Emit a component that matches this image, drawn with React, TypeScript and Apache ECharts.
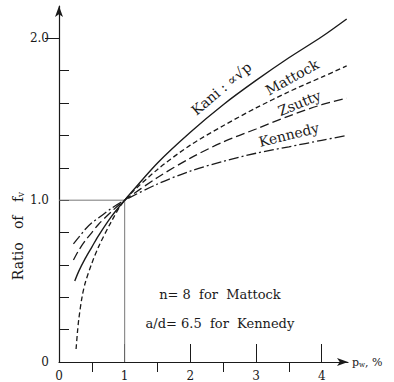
import React, { useEffect, useRef } from "react";
import * as echarts from "echarts";

const kaniP = [0.24, 0.3, 0.4, 0.5, 0.6, 0.8, 1.0, 1.5, 2.0, 2.5, 3.0, 3.5, 4.0, 4.38];
const kaniR = [0.5, 0.56, 0.64, 0.71, 0.78, 0.9, 1.0, 1.23, 1.42, 1.59, 1.74, 1.88, 2.01, 2.12];

const mattockP = [0.26, 0.28, 0.3, 0.35, 0.4, 0.5, 0.6, 0.8, 1.0, 1.5, 2.0, 2.5, 3.0, 3.5, 4.0, 4.38];
const mattockR = [0.08, 0.18, 0.26, 0.4, 0.49, 0.61, 0.71, 0.87, 1.0, 1.19, 1.34, 1.46, 1.57, 1.67, 1.76, 1.83];

const zsuttyP = [0.22, 0.3, 0.4, 0.5, 0.6, 0.8, 1.0, 1.5, 2.0, 2.5, 3.0, 3.5, 4.0, 4.38];
const zsuttyR = [0.63, 0.69, 0.75, 0.8, 0.85, 0.93, 1.0, 1.14, 1.26, 1.36, 1.44, 1.52, 1.59, 1.63];

const kennedyP = [0.22, 0.3, 0.4, 0.5, 0.6, 0.8, 1.0, 1.5, 2.0, 2.5, 3.0, 3.5, 4.0, 4.38];
const kennedyR = [0.73, 0.77, 0.82, 0.86, 0.89, 0.95, 1.0, 1.1, 1.18, 1.24, 1.29, 1.33, 1.37, 1.4];

const refP = [0, 1, 1];
const refR = [1, 1, 0];

const xMajorTicks = [1, 2, 3, 4];
const xMinorTicks = [0.5, 1.5, 2.5, 3.5];
const xLabels = [0, 1, 2, 3, 4];
const yTicks = [0.2, 0.4, 0.6, 0.8, 1.0, 1.2, 1.4, 1.6, 1.8];
const yLongTicks = [2.0];
const yLabels = [0, 1, 2];

const curveLabels = [
  { text: "Kani : ∝√p", p: 2.47, r: 1.69, deg: 40 },
  { text: "Mattock", p: 3.55, r: 1.76, deg: 29 },
  { text: "Zsutty", p: 3.66, r: 1.6, deg: 22 },
  { text: "Kennedy", p: 3.5, r: 1.405, deg: 14 },
];

const notes = ["n= 8  for  Mattock", "a/d= 6.5  for  Kennedy"];

const FONT = "DejaVu Serif";
const INK = "#1a1a1a";

const zip = (a: number[], b: number[]) => a.map((v, i) => [v, b[i]]);

export default function App() {
  const ref = useRef<HTMLDivElement>(null);
  useEffect(() => {
    if (!ref.current) return;
    const chart = echarts.init(ref.current, null, { renderer: "svg" });
    const grid = { left: 59, right: 46, top: 6, bottom: 18 };
    const baseX = {
      type: "value" as const,
      min: 0,
      max: 4.4,
      splitLine: { show: false },
    };
    const baseY = {
      type: "value" as const,
      min: 0,
      max: 2.2,
      splitLine: { show: false },
    };
    const line = (name: string, data: number[][], type: any, width = 1.3) => ({
      name,
      type: "line",
      data,
      showSymbol: false,
      symbol: "none",
      smooth: 0.3,
      lineStyle: { color: INK, width, type },
      silent: true,
    });
    chart.setOption({
      animation: false,
      grid,
      xAxis: [
        {
          ...baseX,
          axisLine: {
            show: true,
            lineStyle: { color: INK, width: 1.2 },
            symbol: ["none", "arrow"],
            symbolSize: [6, 11],
          },
          axisTick: {
            show: true,
            inside: true,
            length: 18,
            customValues: xMajorTicks,
            lineStyle: { color: INK, width: 1 },
          },
          axisLabel: {
            show: true,
            customValues: xLabels,
            margin: 8,
            color: INK,
            fontFamily: FONT,
            fontSize: 12,
            formatter: (v: number) => String(v),
          },
          name: "p{s|w}, %",
          nameLocation: "end",
          nameGap: 4,
          nameTextStyle: {
            color: INK,
            fontFamily: FONT,
            fontSize: 11,
            rich: { s: { fontSize: 7, fontFamily: FONT, color: INK, padding: [5, 0, 0, 0] } },
          },
        },
        {
          ...baseX,
          axisLine: { show: false },
          axisLabel: { show: false },
          axisTick: {
            show: true,
            inside: true,
            length: 10,
            customValues: xMinorTicks,
            lineStyle: { color: INK, width: 1 },
          },
        },
      ],
      yAxis: [
        {
          ...baseY,
          axisLine: {
            show: true,
            lineStyle: { color: INK, width: 1.2 },
            symbol: ["none", "arrow"],
            symbolSize: [6, 11],
          },
          axisTick: {
            show: true,
            inside: true,
            length: 10,
            customValues: yTicks,
            lineStyle: { color: INK, width: 1 },
          },
          axisLabel: {
            show: true,
            customValues: yLabels,
            margin: 10,
            color: INK,
            fontFamily: FONT,
            fontSize: 12,
            formatter: (v: number) => (v === 0 ? "0" : v.toFixed(1)),
          },
        },
        {
          ...baseY,
          axisLine: { show: false },
          axisLabel: { show: false },
          axisTick: {
            show: true,
            inside: true,
            length: 14,
            customValues: yLongTicks,
            lineStyle: { color: INK, width: 1 },
          },
        },
      ],
      series: [
        {
          name: "ref",
          type: "line",
          data: zip(refP, refR),
          showSymbol: false,
          symbol: "none",
          lineStyle: { color: "#777", width: 1 },
          silent: true,
        },
        line("Kani", zip(kaniP, kaniR), "solid", 1.4),
        line("Mattock", zip(mattockP, mattockR), [5, 3]),
        line("Zsutty", zip(zsuttyP, zsuttyR), [9, 4]),
        line("Kennedy", zip(kennedyP, kennedyR), [10, 3, 2, 3]),
      ],
    });

    const toPx = (p: number, r: number) =>
      chart.convertToPixel({ xAxisIndex: 0, yAxisIndex: 0 }, [p, r]) as number[];
    const notePos = [toPx(2.45, 0.42), toPx(2.45, 0.235)];
    chart.setOption({
      graphic: [
        ...curveLabels.map((c) => {
          const [x, y] = toPx(c.p, c.r);
          return {
            type: "text",
            x,
            y,
            rotation: (c.deg * Math.PI) / 180,
            silent: true,
            style: {
              text: c.text,
              fill: INK,
              font: `14px '${FONT}'`,
              align: "center",
              verticalAlign: "middle",
            },
          };
        }),
        ...notes.map((t, i) => ({
          type: "text",
          x: notePos[i][0],
          y: notePos[i][1],
          silent: true,
          style: {
            text: t,
            fill: INK,
            font: `13px '${FONT}'`,
            align: "center",
            verticalAlign: "middle",
          },
        })),
        {
          type: "text",
          x: 18,
          y: 236,
          rotation: Math.PI / 2,
          silent: true,
          style: {
            text: "Ratio   of   f{s|v}",
            fill: INK,
            font: `14px '${FONT}'`,
            align: "center",
            verticalAlign: "middle",
            rich: { s: { fontSize: 9, fontFamily: FONT, fill: INK, padding: [5, 0, 0, 0] } },
          },
        },
      ],
    });
    return () => chart.dispose();
  }, []);
  return <div ref={ref} style={{ width: 394, height: 382, position: "absolute", left: 0, top: 0 }} />;
}
